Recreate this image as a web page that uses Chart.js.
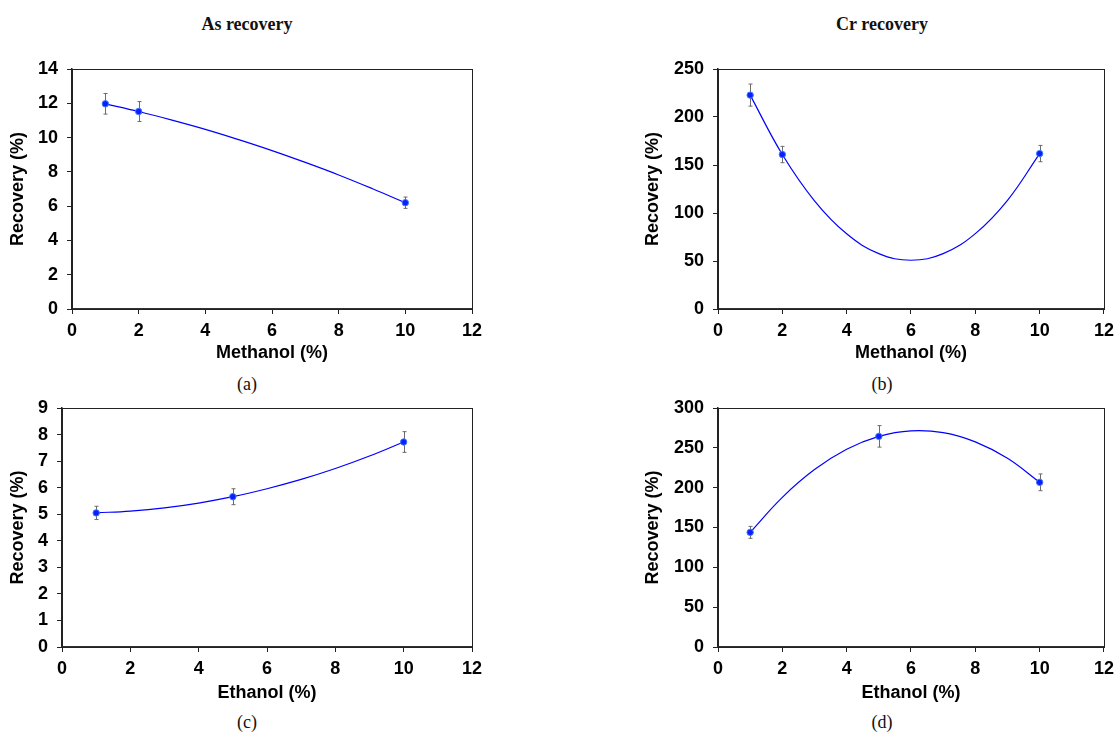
<!DOCTYPE html>
<html>
<head>
<meta charset="utf-8">
<script src="https://cdn.jsdelivr.net/npm/chart.js@4.4.1/dist/chart.umd.min.js"></script>
<style>
  body { margin: 0; background: #fff; width: 1120px; height: 733px; position: relative; overflow: hidden; }
  .box { position: absolute; }
  .lbl { position: absolute; transform: translateX(-50%); white-space: nowrap; line-height: 20px;
         font-family: "Liberation Serif", "DejaVu Serif", serif; color: #111; font-size: 18px; }
  .ttl { font-weight: bold; }
</style>
</head>
<body>
<div class="lbl ttl" style="left:247px;top:14px">As recovery</div>
<div class="lbl ttl" style="left:882px;top:14px">Cr recovery</div>
<div class="lbl" style="left:247px;top:374px">(a)</div>
<div class="lbl" style="left:882px;top:374px">(b)</div>
<div class="lbl" style="left:247px;top:712px">(c)</div>
<div class="lbl" style="left:882px;top:712px">(d)</div>

<div class="box" style="left:0;top:40px;width:560px;height:330px"><canvas id="ca"></canvas></div>
<div class="box" style="left:630px;top:40px;width:490px;height:330px"><canvas id="cb"></canvas></div>
<div class="box" style="left:0;top:380px;width:560px;height:330px"><canvas id="cc"></canvas></div>
<div class="box" style="left:630px;top:380px;width:490px;height:330px"><canvas id="cd"></canvas></div>

<script>
// measured points (x = solvent %, y = recovery %, err = +/-)
const methX = [1, 2, 10];
const ethX = [1, 5, 10];

const asMethY = [11.97, 11.52, 6.2];
const asMethErr = [0.6, 0.58, 0.33];
const crMethY = [222.8, 160.9, 161.9];
const crMethErr = [11.5, 8.5, 8.5];
const asEthY = [5.05, 5.66, 7.72];
const asEthErr = [0.25, 0.3, 0.39];
const crEthY = [143.9, 264.4, 206.7];
const crEthErr = [7.5, 13.5, 10.5];

// trend curves at whole x values
const trendX = [1, 2, 3, 4, 5, 6, 7, 8, 9, 10];
const asMethTrend = [11.97, 11.52, 11.02, 10.48, 9.88, 9.24, 8.55, 7.82, 7.03, 6.2];
const crMethTrend = [222.8, 160.9, 112.7, 78.3, 57.7, 50.8, 57.7, 78.5, 113.2, 161.9];
const asEthTrend = [5.05, 5.12, 5.24, 5.42, 5.66, 5.96, 6.31, 6.72, 7.19, 7.72];
const crEthTrend = [143.9, 187.9, 222.7, 248.2, 264.4, 271.4, 269.1, 257.5, 236.8, 206.7];

const xTicks = { min: 0, max: 12, step: 2 };

const errorBars = {
  id: 'errorBars',
  beforeDatasetsDraw(chart) {
    const { ctx, scales: { x, y } } = chart;
    chart.data.datasets.forEach(ds => {
      if (!ds.errors) return;
      ctx.save();
      ctx.strokeStyle = '#6b6b6b';
      ctx.lineWidth = 1;
      ds.data.forEach((p, i) => {
        const px = Math.round(x.getPixelForValue(p.x)) + 0.5;
        const top = y.getPixelForValue(p.y + ds.errors[i]);
        const bot = y.getPixelForValue(p.y - ds.errors[i]);
        ctx.beginPath();
        ctx.moveTo(px, top); ctx.lineTo(px, bot);
        ctx.moveTo(px - 2, top); ctx.lineTo(px + 2, top);
        ctx.moveTo(px - 2, bot); ctx.lineTo(px + 2, bot);
        ctx.stroke();
      });
      ctx.restore();
    });
  }
};

const frame = {
  id: 'frame',
  afterDraw(chart) {
    const { ctx, chartArea: a } = chart;
    ctx.save();
    ctx.strokeStyle = '#222';
    ctx.lineWidth = 1;
    ctx.strokeRect(Math.round(a.left) + 0.5, Math.round(a.top) + 0.5,
                   Math.round(a.right - a.left), Math.round(a.bottom - a.top));
    ctx.restore();
  }
};

const tickFont = { family: '"Liberation Sans", Arial, sans-serif', size: 18, weight: 'bold' };
const titleFont = { family: '"Liberation Sans", Arial, sans-serif', size: 18, weight: 'bold' };

function makeChart(id, cfg) {
  const pts = cfg.xs.map((v, i) => ({ x: v, y: cfg.ys[i] }));
  const trend = trendX.map((v, i) => ({ x: v, y: cfg.trend[i] }));
  return new Chart(document.getElementById(id), {
    type: 'scatter',
    data: {
      datasets: [
        {
          data: pts, errors: cfg.errs, showLine: false,
          pointRadius: 3.2, pointBackgroundColor: '#0a1eff', pointBorderColor: '#3d7bff',
          pointBorderWidth: 1, order: 0
        },
        {
          data: trend, showLine: true, pointRadius: 0, borderColor: '#0000ff',
          borderWidth: 1.2, tension: 0.4, order: 1
        }
      ]
    },
    options: {
      responsive: true,
      maintainAspectRatio: false,
      animation: false,
      events: [],
      layout: { padding: { top: cfg.padTop, right: cfg.padRight, left: 0, bottom: 0 } },
      plugins: { legend: { display: false }, tooltip: { enabled: false } },
      scales: {
        x: {
          type: 'linear', min: xTicks.min, max: xTicks.max,
          ticks: { stepSize: xTicks.step, color: '#000', font: tickFont, padding: 6 },
          grid: { drawOnChartArea: false, drawTicks: true, tickLength: 5, color: '#222' },
          border: { color: '#333', width: 2 },
          title: { display: true, text: cfg.xTitle, color: '#000', font: titleFont,
                   padding: { top: 0, bottom: 6 } },
          afterFit(s) { s.height = cfg.xHeight; }
        },
        y: {
          type: 'linear', min: 0, max: cfg.yMax,
          ticks: { stepSize: cfg.yStep, color: '#000', font: tickFont, padding: 9 },
          grid: { drawOnChartArea: false, drawTicks: true, tickLength: 5, color: '#222' },
          border: { color: '#222', width: 1.5 },
          title: { display: true, text: 'Recovery (%)', color: '#000', font: titleFont,
                   padding: { top: cfg.yTitlePad, bottom: 0 } },
          afterFit(s) { s.width = cfg.yWidth; }
        }
      }
    },
    plugins: [errorBars, frame]
  });
}

makeChart('ca', { xs: methX, ys: asMethY, errs: asMethErr, trend: asMethTrend,
  yMax: 14, yStep: 2, xTitle: 'Methanol (%)',
  padTop: 29, padRight: 88, yWidth: 72, xHeight: 61, yTitlePad: 7 });
makeChart('cb', { xs: methX, ys: crMethY, errs: crMethErr, trend: crMethTrend,
  yMax: 250, yStep: 50, xTitle: 'Methanol (%)',
  padTop: 29, padRight: 13, yWidth: 88, xHeight: 61, yTitlePad: 12 });
makeChart('cc', { xs: ethX, ys: asEthY, errs: asEthErr, trend: asEthTrend,
  yMax: 9, yStep: 1, xTitle: 'Ethanol (%)',
  padTop: 28, padRight: 88, yWidth: 62, xHeight: 63, yTitlePad: 7 });
makeChart('cd', { xs: ethX, ys: crEthY, errs: crEthErr, trend: crEthTrend,
  yMax: 300, yStep: 50, xTitle: 'Ethanol (%)',
  padTop: 28, padRight: 13, yWidth: 88, xHeight: 63, yTitlePad: 12 });
</script>
</body>
</html>
